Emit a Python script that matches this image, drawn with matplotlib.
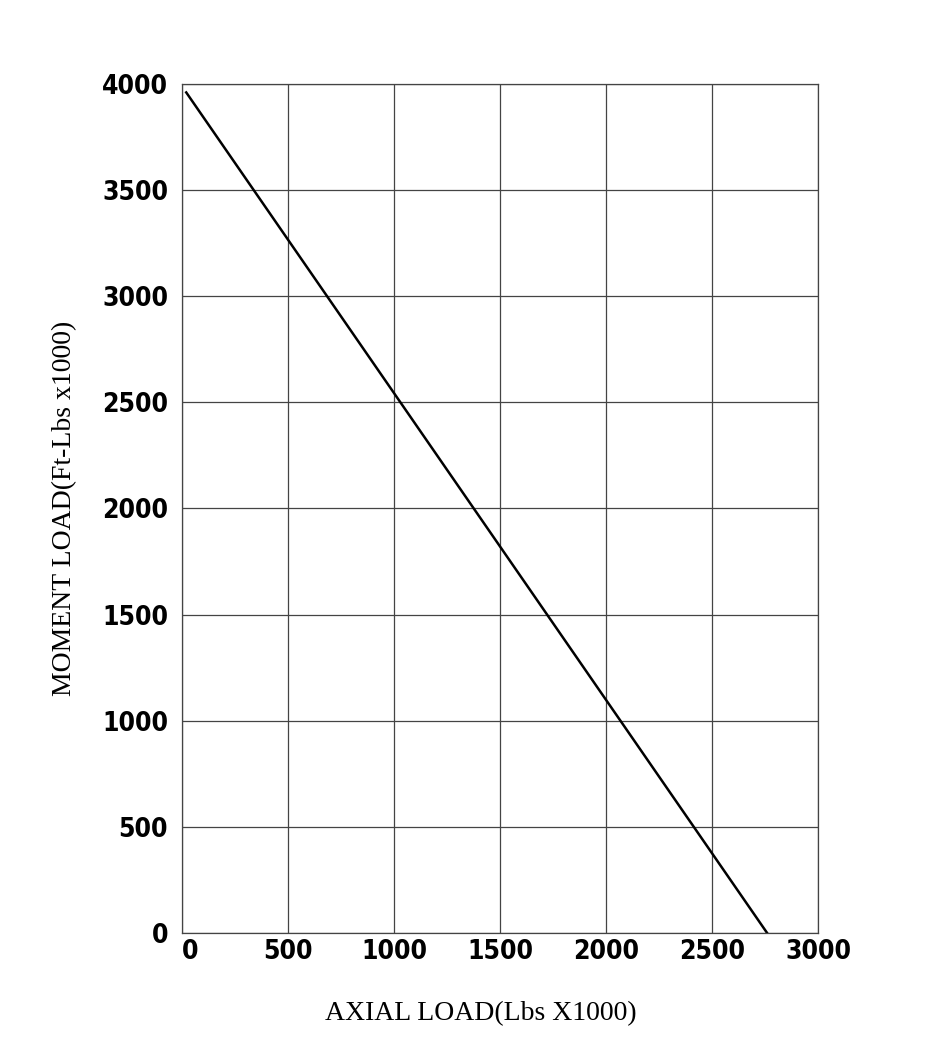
import matplotlib.pyplot as plt

# load curve end points (axial, moment), both x1000
axial = [20, 2760]
moment = [3960, 0]

x_ticks = [0, 500, 1000, 1500, 2000, 2500, 3000]
y_ticks = [0, 500, 1000, 1500, 2000, 2500, 3000, 3500, 4000]

tick_font = dict(family=['DejaVu Sans'], stretch='condensed', weight='bold', size=19)
label_font = dict(family=['Liberation Serif', 'DejaVu Serif'], size=20)

fig = plt.figure(figsize=(9.3, 10.52), dpi=100)
ax = fig.add_axes([0.1957, 0.1131, 0.6839, 0.8071])

ax.plot(axial, moment, color='black', linewidth=1.8)

ax.set_xlim(0, 3000)
ax.set_ylim(0, 4000)
ax.set_xticks(x_ticks)
ax.set_yticks(y_ticks)
ax.grid(True, color='#444444', linewidth=0.9)
for s in ax.spines.values():
    s.set_color('#444444')
    s.set_linewidth(0.9)
ax.tick_params(length=0, pad=4)
ax.tick_params(axis='y', pad=10)

ax.set_xticklabels([str(v) for v in x_ticks], **tick_font)
ax.set_yticklabels([str(v) for v in y_ticks], **tick_font)
ax.get_xticklabels()[0].set_horizontalalignment('left')

ax.set_xlabel('AXIAL LOAD(Lbs X1000)', labelpad=26, **label_font)
ax.xaxis.label.set_x(0.47)
ax.set_ylabel('MOMENT LOAD(Ft-Lbs x1000)', labelpad=18, **label_font)

fig.savefig('out.png', dpi=100)
